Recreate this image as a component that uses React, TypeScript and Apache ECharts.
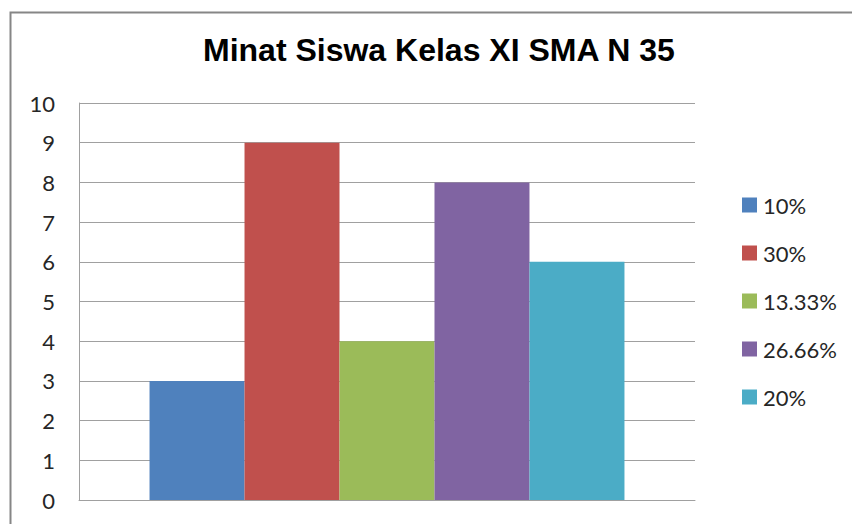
import React, { useEffect, useRef } from "react";
import * as echarts from "echarts";

const titleText = "Minat Siswa Kelas XI SMA N 35";
const categories = [""];
const seriesNames = ["10%", "30%", "13.33%", "26.66%", "20%"];
const seriesValues = [3, 9, 4, 8, 6];
const seriesColors = ["#4F81BD", "#C0504D", "#9BBB59", "#8064A2", "#4BACC6"];

export default function App() {
  const ref = useRef<HTMLDivElement>(null);
  useEffect(() => {
    if (!ref.current) return;
    const chart = echarts.init(ref.current, undefined, { renderer: "svg" });
    chart.setOption({
      animation: false,
      backgroundColor: "#ffffff",
      title: {
        text: titleText,
        left: 203,
        top: 34,
        padding: 0,
        textStyle: {
          fontFamily: "Liberation Sans",
          fontWeight: "bold",
          fontSize: 32,
          color: "#000000",
        },
      },
      graphic: [
        {
          type: "rect",
          shape: { x: 10.5, y: 12.5, width: 900, height: 600 },
          style: { fill: "none", stroke: "#868686", lineWidth: 2 },
          silent: true,
        },
      ],
      legend: {
        orient: "vertical",
        left: 737,
        top: 187,
        itemWidth: 15,
        itemHeight: 15,
        itemGap: 22,
        icon: "rect",
        data: seriesNames,
        textStyle: {
          fontFamily: "Lato",
          fontSize: 22,
          lineHeight: 26,
          color: "#262626",
          padding: [0, 0, 0, 1],
        },
      },
      grid: { left: 79, right: 157, top: 103, bottom: 24, containLabel: false },
      xAxis: {
        type: "category",
        data: categories,
        axisLine: { show: true, lineStyle: { color: "#a0a0a0", width: 1 } },
        axisTick: { show: false },
        axisLabel: { show: false },
      },
      yAxis: {
        type: "value",
        min: 0,
        max: 10,
        interval: 1,
        axisLine: { show: true, lineStyle: { color: "#a0a0a0", width: 1 } },
        axisTick: { show: false },
        splitLine: { show: true, lineStyle: { color: "#a0a0a0", width: 1 } },
        axisLabel: {
          margin: 24,
          fontFamily: "Lato",
          fontSize: 22,
          color: "#262626",
        },
      },
      series: seriesNames.map((name, i) => ({
        name,
        type: "bar",
        data: [seriesValues[i]],
        barGap: "0%",
        barCategoryGap: "22.9%",
        itemStyle: { color: seriesColors[i] },
      })),
    });
    return () => chart.dispose();
  }, []);
  return (
    <div
      ref={ref}
      style={{ position: "fixed", left: 0, top: 0, width: 852, height: 524 }}
    />
  );
}
